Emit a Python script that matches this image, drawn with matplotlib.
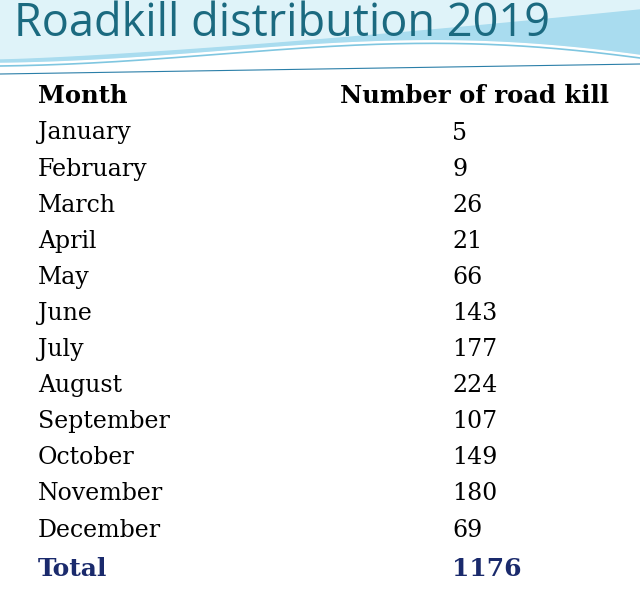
import matplotlib
matplotlib.use("Agg")
import matplotlib.pyplot as plt
import numpy as np

title = "Roadkill distribution 2019"
headers = ["Month", "Number of road kill"]
months = ["January", "February", "March", "April", "May", "June", "July",
          "August", "September", "October", "November", "December"]
counts = [5, 9, 26, 21, 66, 143, 177, 224, 107, 149, 180, 69]
total_label = "Total"
total_value = 1176

fig = plt.figure(figsize=(6.4, 6.06), dpi=100)
ax = fig.add_axes([0, 0, 1, 1])
ax.set_xlim(0, 640)
ax.set_ylim(606, 0)
ax.axis("off")

# decorative wave at top
x = np.linspace(0, 640, 300)
t = x / 640
lower = 62 - 30 * np.sin(np.pi * t) * t - 8 * t
ax.fill_between(x, 0, lower, color="#dff3f9", zorder=0)
band_up = np.minimum(lower, 60 - 50 * t ** 1.3)
ax.fill_between(x, band_up, lower, color="#a9dcef", zorder=0)
ax.plot(x, lower + 4, color="#7fc6e0", lw=1.2)
ax.plot(x, 74 - 10 * t, color="#2a7fa8", lw=0.8)

ax.text(14, 24, title, fontsize=32.5, color="#1b6a80", va="center", ha="left",
        family="Open Sans")

serif = "DejaVu Serif"
ax.text(38, 96, headers[0], fontsize=17.5, weight="bold", va="center", family=serif)
ax.text(340, 96, headers[1], fontsize=17.5, weight="bold", va="center", family=serif)

y0, dy = 133, 36.1
for i, (m, c) in enumerate(zip(months, counts)):
    y = y0 + i * dy
    ax.text(38, y, m, fontsize=17, va="center", family=serif)
    ax.text(452, y, str(c), fontsize=17, va="center", family=serif)

yt = y0 + len(months) * dy + 3
ax.text(38, yt, total_label, fontsize=18, weight="bold", color="#1a2a6c", va="center", family=serif)
ax.text(452, yt, str(total_value), fontsize=18, weight="bold", color="#1a2a6c", va="center", family=serif)

fig.savefig("out.png", dpi=100)
